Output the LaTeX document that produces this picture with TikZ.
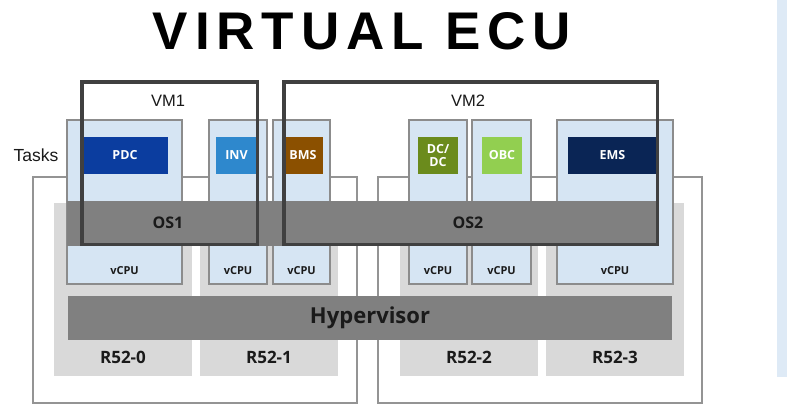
\documentclass[tikz,border=0pt]{standalone}
\usepackage{fontspec}
\setmainfont{Open Sans}
\newfontfamily\arialfont{Liberation Sans}
\begin{document}
\begin{tikzpicture}[x=1pt,y=-1pt,
  host/.style={draw=black!42,line width=1.4pt,fill=white,inner sep=0pt},
  core/.style={fill=black!15,inner sep=0pt},
  column/.style={draw=black!45,line width=1.3pt,fill=vlblue,inner sep=0pt,minimum height=164pt},
  task/.style={inner sep=0pt,minimum height=37pt,text=white,font=\bfseries\fontsize{12.5}{13}\selectfont,align=center},
  bar/.style={fill=osgray,inner sep=0pt},
  vm/.style={draw=vmgray,line width=3.5pt},
  cpulbl/.style={font=\bfseries\fontsize{11}{12}\selectfont,text=txtdark},
  corelbl/.style={font=\bfseries\fontsize{17}{18}\selectfont,text=txtdark},
  oslbl/.style={font=\bfseries\fontsize{16}{17}\selectfont,text=txtdark},
  vmlbl/.style={font=\arialfont\fontsize{16.5}{17}\selectfont,text=txtdark}]
\definecolor{vlblue}{HTML}{D6E5F3}
\definecolor{osgray}{HTML}{808080}
\definecolor{vmgray}{HTML}{404040}
\definecolor{txtdark}{HTML}{1A1A1A}
\definecolor{pdcblue}{HTML}{0B3D9F}
\definecolor{invblue}{HTML}{2E88CD}
\definecolor{bmsbrown}{HTML}{8B5000}
\definecolor{dcgreen}{HTML}{6B8B1C}
\definecolor{obcgreen}{HTML}{92CF50}
\definecolor{emsnavy}{HTML}{0A2555}
\definecolor{sidestrip}{HTML}{DEEAF6}

\useasboundingbox (0,0) rectangle (787,404);
\fill[white] (0,0) rectangle (787,404);
\fill[sidestrip] (777,0) rectangle (787,377);

% title
\node (title) at (362,31) {\arialfont\bfseries\addfontfeature{LetterSpace=13}\fontsize{53}{56}\selectfont VIRTUAL ECU};

% host boards
\node[host,minimum width=324pt,minimum height=226pt] (hostL) at (195,290) {};
\node[host,minimum width=324pt,minimum height=226pt] (hostR) at (540,290) {};

% cores
\node[core,minimum width=138pt,minimum height=173pt] (core0) at (123,289.5) {};
\node[core,minimum width=138pt,minimum height=173pt] (core1) at (269,289.5) {};
\node[core,minimum width=138pt,minimum height=173pt] (core2) at (469,289.5) {};
\node[core,minimum width=138pt,minimum height=173pt] (core3) at (615,289.5) {};

% vCPU columns
\node[column,minimum width=115pt] (col1) at (124.5,202) {};
\node[column,minimum width=58pt] (col2) at (238,202) {};
\node[column,minimum width=57pt] (col3) at (301.5,202) {};
\node[column,minimum width=58pt] (col4) at (438,202) {};
\node[column,minimum width=59pt] (col5) at (501.5,202) {};
\node[column,minimum width=116pt] (col6) at (615,202) {};

% tasks
\node[task,fill=pdcblue,minimum width=86pt] (pdc) at (125,155.5) {PDC};
\node[task,fill=invblue,minimum width=41pt] (inv) at (236.5,155.5) {INV};
\node[task,fill=bmsbrown,minimum width=40pt] (bms) at (303,155.5) {BMS};
\node[task,fill=dcgreen,minimum width=40pt,font=\bfseries\fontsize{12.5}{13.5}\selectfont] (dcdc) at (438,155.5) {DC/\\DC};
\node[task,fill=obcgreen,minimum width=40pt] (obc) at (502,155.5) {OBC};
\node[task,fill=emsnavy,minimum width=89pt] (ems) at (612.5,155.5) {EMS};

% OS layer
\node[bar,minimum width=591pt,minimum height=45pt] (osbar) at (362.5,223.5) {};
\node[oslbl] (os1) at (168,223) {OS1};
\node[oslbl] (os2) at (468,223) {OS2};

% virtual machines
\draw[vm] (81.75,81.75) rectangle (257.25,244.25);
\draw[vm] (283.75,81.75) rectangle (657.25,244.25);
\node[vmlbl] (vm1) at (168,101) {VM1};
\node[vmlbl] (vm2) at (468,101) {VM2};

% vCPU labels
\node[cpulbl] (cpu1) at (124.5,271) {vCPU};
\node[cpulbl] (cpu2) at (238,271) {vCPU};
\node[cpulbl] (cpu3) at (301.5,271) {vCPU};
\node[cpulbl] (cpu4) at (438,271) {vCPU};
\node[cpulbl] (cpu5) at (501.5,271) {vCPU};
\node[cpulbl] (cpu6) at (615,271) {vCPU};

% hypervisor
\node[bar,minimum width=604pt,minimum height=44pt,text=txtdark,font=\bfseries\fontsize{22}{24}\selectfont] (hyp) at (370,318) {Hypervisor};

% core labels
\node[corelbl] (r0) at (123,357) {R52-0};
\node[corelbl] (r1) at (269,357) {R52-1};
\node[corelbl] (r2) at (469,357) {R52-2};
\node[corelbl] (r3) at (615,357) {R52-3};

% side label
\node[vmlbl,font=\arialfont\fontsize{17.5}{18}\selectfont] (tasks) at (36,155) {Tasks};
\end{tikzpicture}
\end{document}
